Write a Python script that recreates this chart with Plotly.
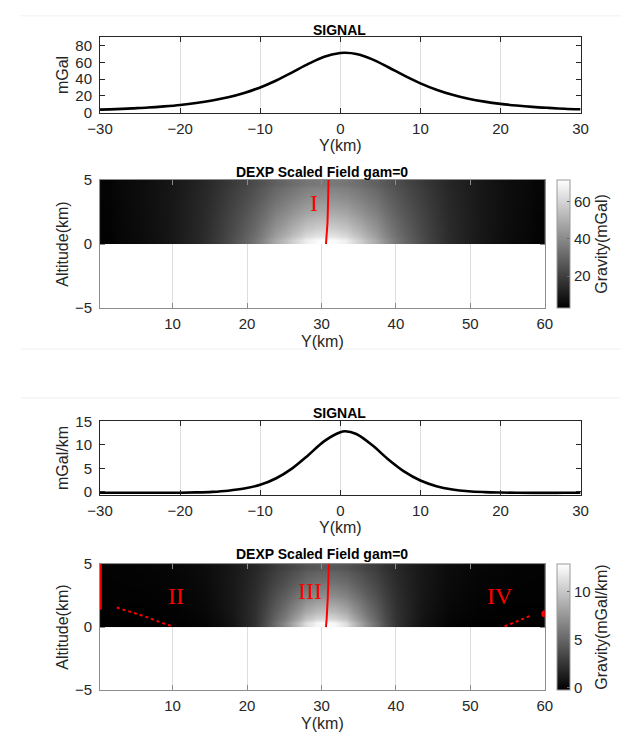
import plotly.graph_objects as go

W, H = 635, 745

# ---------------- data ----------------
sig_x = [-30, -28, -26, -24, -22, -20, -18, -16, -14, -12, -10, -8, -6, -4, -2,
         0, 0.6, 2, 4, 6, 8, 10, 12, 14, 16, 18, 20, 22, 24, 26, 28, 30]
signal_mgal = [3.5, 4.1, 5.0, 6.0, 7.4, 9.1, 11.4, 14.4, 18.3, 23.5, 30.1, 38.4, 48.1, 58.2, 66.8,
               71.2, 71.5, 70.1, 63.7, 54.2, 44.1, 34.9, 27.3, 21.2, 16.6, 13.1, 10.4, 8.4, 6.8, 5.6, 4.6, 3.9]
signal_grad = [-0.2, -0.2, -0.2, -0.2, -0.2, -0.18, -0.12, 0.0, 0.25, 0.7, 1.5, 2.9, 5.0, 7.8, 10.8,
               12.7, 12.9, 12.3, 9.9, 6.9, 4.3, 2.4, 1.2, 0.5, 0.12, -0.06, -0.15, -0.2, -0.22, -0.22, -0.2, -0.2]

grid_y_km = [0, 5.6, 10.1, 14.1, 18.1, 21.1, 24.1, 26.1, 28.1, 29.4, 30.6, 31.8, 33.1, 35.1,
             37.1, 40.1, 43.1, 47.1, 51.1, 55.6, 60]
alt_km = [0, 1.25, 2.5, 3.75, 5]

field_mgal = [
    [3.5, 5.8, 9.2, 14.6, 23.8, 34.5, 48.6, 58.7, 67.1, 70.4, 71.5, 70.4, 67.1, 58.7, 48.6, 34.5, 23.8, 14.6, 9.2, 5.8, 3.9],
    [3.7, 6.0, 9.4, 14.4, 22.6, 31.5, 42.4, 49.8, 55.7, 57.9, 58.7, 57.9, 55.7, 49.8, 42.4, 31.5, 22.6, 14.4, 9.4, 6.0, 4.1],
    [3.8, 6.2, 9.4, 14.1, 21.3, 28.7, 37.2, 42.7, 46.9, 48.5, 49.0, 48.5, 46.9, 42.7, 37.2, 28.7, 21.3, 14.1, 9.4, 6.2, 4.2],
    [4.0, 6.3, 9.4, 13.7, 20.0, 26.1, 32.8, 36.9, 40.0, 41.2, 41.5, 41.2, 40.0, 36.9, 32.8, 26.1, 20.0, 13.7, 9.4, 6.3, 4.4],
    [4.1, 6.3, 9.3, 13.2, 18.6, 23.7, 29.0, 32.2, 34.5, 35.4, 35.6, 35.4, 34.5, 32.2, 29.0, 23.7, 18.6, 13.2, 9.3, 6.3, 4.5],
]
field_grad = [
    [-0.18, -0.22, -0.21, -0.02, 0.75, 2.31, 5.42, 8.34, 11.22, 12.49, 12.9, 12.49, 11.22, 8.34, 5.42, 2.31, 0.75, -0.02, -0.21, -0.22, -0.19],
    [-0.15, -0.17, -0.11, 0.13, 0.91, 2.27, 4.62, 6.62, 8.45, 9.22, 9.47, 9.22, 8.45, 6.62, 4.62, 2.27, 0.91, 0.13, -0.11, -0.17, -0.16],
    [-0.12, -0.12, -0.03, 0.25, 0.99, 2.13, 3.92, 5.30, 6.51, 6.99, 7.15, 6.99, 6.51, 5.30, 3.92, 2.13, 0.99, 0.25, -0.03, -0.12, -0.13],
    [-0.10, -0.07, 0.04, 0.33, 1.02, 1.96, 3.31, 4.29, 5.11, 5.43, 5.53, 5.43, 5.11, 4.29, 3.31, 1.96, 1.02, 0.33, 0.04, -0.07, -0.10],
    [-0.08, -0.03, 0.10, 0.39, 1.00, 1.79, 2.82, 3.52, 4.09, 4.31, 4.38, 4.31, 4.09, 3.52, 2.82, 1.79, 1.00, 0.39, 0.10, -0.03, -0.07],
]

# red DEXP traces
line_I_x = [30.95, 30.95, 30.9, 30.85, 30.8, 30.7, 30.6]
line_I_y = [5, 4.2, 3.4, 2.5, 1.6, 0.8, 0]
line_III_x = [31.0, 31.0, 30.9, 30.85, 30.8, 30.7, 30.6]
line_III_y = [5, 4.2, 3.3, 2.4, 1.5, 0.7, 0]
edge_x = [0.35, 0.35]
edge_y = [5, 1.4]
dots_II_x = [2.5, 4.5, 6.5, 8.5, 10.0]
dots_II_y = [1.55, 1.2, 0.8, 0.35, 0.05]
dots_IV_x = [54.6, 56.0, 57.3, 58.3]
dots_IV_y = [0.05, 0.4, 0.7, 0.95]
mark_x = [60]
mark_y = [1.05]

labels = [("I", 29.0, 3.2, 2), ("II", 10.5, 2.5, 4), ("III", 28.4, 2.9, 4), ("IV", 54.0, 2.5, 4)]

# ---------------- helpers ----------------
def edges(c):
    e = [c[0]]
    for a, b in zip(c[:-1], c[1:]):
        e.append((a + b) / 2)
    e.append(c[-1])
    return e

def px(x):
    return x / W

def py(y):
    return 1 - y / H

def xd(l, r):
    return [px(l), px(r)]

def yd(t, b):
    return [py(b), py(t)]

AX = "#262626"
FONT = "Liberation Sans, Arial, sans-serif"
tickfont = dict(family=FONT, size=15, color=AX)
titlefont = dict(family=FONT, size=16, color=AX)
gray = [[0, "#000000"], [1, "#ffffff"]]

fig = go.Figure()

fig.add_trace(go.Scatter(x=sig_x, y=signal_mgal, mode="lines", line=dict(color="black", width=2.6, shape="spline"),
                         xaxis="x", yaxis="y", showlegend=False))
fig.add_trace(go.Heatmap(x=edges(grid_y_km), y=edges(alt_km), z=field_mgal, zsmooth="best",
                         colorscale=gray, zmin=3.0, zmax=71.5, xaxis="x2", yaxis="y2",
                         colorbar=dict(x=px(563), xanchor="left", xpad=0, ypad=0, y=py(175), yanchor="top",
                                       len=131 / H, lenmode="fraction", thickness=13, outlinewidth=1,
                                       outlinecolor="#9a9a9a", tickvals=[20, 40, 60], ticks="inside", ticklen=3,
                                       tickcolor="#666", tickfont=tickfont,
                                       title=dict(text="Gravity(mGal)", side="right", font=titlefont))))
fig.add_trace(go.Scatter(x=line_I_x, y=line_I_y, mode="lines", line=dict(color="red", width=2),
                         xaxis="x2", yaxis="y2", showlegend=False))

fig.add_trace(go.Scatter(x=sig_x, y=signal_grad, mode="lines", line=dict(color="black", width=2.6, shape="spline"),
                         xaxis="x3", yaxis="y3", showlegend=False))
fig.add_trace(go.Heatmap(x=edges(grid_y_km), y=edges(alt_km), z=field_grad, zsmooth="best",
                         colorscale=gray, zmin=-0.22, zmax=12.9, xaxis="x4", yaxis="y4",
                         colorbar=dict(x=px(563), xanchor="left", xpad=0, ypad=0, y=py(568), yanchor="top",
                                       len=129 / H, lenmode="fraction", thickness=13, outlinewidth=1,
                                       outlinecolor="#9a9a9a", tickvals=[0, 5, 10], ticks="inside", ticklen=3,
                                       tickcolor="#666", tickfont=tickfont,
                                       title=dict(text="Gravity(mGal/km)", side="right", font=titlefont))))
for xs, ys in [(line_III_x, line_III_y), (edge_x, edge_y)]:
    fig.add_trace(go.Scatter(x=xs, y=ys, mode="lines", line=dict(color="red", width=2),
                             xaxis="x4", yaxis="y4", showlegend=False))
for xs, ys in [(dots_II_x, dots_II_y), (dots_IV_x, dots_IV_y)]:
    fig.add_trace(go.Scatter(x=xs, y=ys, mode="lines", line=dict(color="red", width=2, dash="dot"),
                             xaxis="x4", yaxis="y4", showlegend=False))
fig.add_trace(go.Scatter(x=mark_x, y=mark_y, mode="markers", marker=dict(color="red", size=7),
                         cliponaxis=True, xaxis="x4", yaxis="y4", showlegend=False))

def xaxis_style(dom, rng, tv, anchor, linecol=AX):
    return dict(domain=dom, range=rng, tickvals=tv, anchor=anchor, showline=True, linecolor=linecol,
                linewidth=1, mirror="allticks", ticks="inside", ticklen=5, tickcolor=linecol,
                showgrid=True, gridcolor="#dedede", gridwidth=1, zeroline=False, tickfont=tickfont,
                ticklabelstandoff=2, title=dict(text="Y(km)", font=titlefont, standoff=4))

def yaxis_style(dom, rng, tv, anchor, title, linecol=AX):
    return dict(domain=dom, range=rng, tickvals=tv, anchor=anchor, showline=True, linecolor=linecol,
                linewidth=1, mirror="allticks", ticks="inside", ticklen=5, tickcolor=linecol,
                showgrid=False, zeroline=False, tickfont=tickfont, ticklabelstandoff=4,
                title=dict(text=title, font=titlefont, standoff=2))

fig.update_layout(
    width=W, height=H, margin=dict(l=0, r=0, t=0, b=0), paper_bgcolor="white", plot_bgcolor="white",
    showlegend=False,
    xaxis=xaxis_style(xd(90, 587), [-30, 30], [-30, -20, -10, 0, 10, 20, 30], "y"),
    yaxis=yaxis_style(yd(29, 106), [0, 90], [0, 20, 40, 60, 80], "x", "mGal"),
    xaxis2=xaxis_style(xd(90, 550), [0.25, 60], [10, 20, 30, 40, 50, 60], "y2", "#8c8c8c"),
    yaxis2=yaxis_style(yd(175, 306), [-5, 5], [-5, 0, 5], "x2", "Altitude(km)", "#8c8c8c"),
    xaxis3=xaxis_style(xd(90, 587), [-30, 30], [-30, -20, -10, 0, 10, 20, 30], "y3"),
    yaxis3=yaxis_style(yd(422, 497), [-0.6, 15], [0, 5, 10, 15], "x3", "mGal/km"),
    xaxis4=xaxis_style(xd(90, 550), [0.25, 60], [10, 20, 30, 40, 50, 60], "y4", "#8c8c8c"),
    yaxis4=yaxis_style(yd(568, 697), [-5, 5], [-5, 0, 5], "x4", "Altitude(km)", "#8c8c8c"),
)

titles = [("SIGNAL", 338, 22), ("DEXP Scaled Field gam=0", 320, 167),
          ("SIGNAL", 338, 413), ("DEXP Scaled Field gam=0", 320, 558)]
for txt, tx, ty in titles:
    fig.add_annotation(x=px(tx), y=py(ty), xref="paper", yref="paper", text="<b>" + txt + "</b>",
                       showarrow=False, font=dict(family=FONT, size=14, color="black"),
                       xanchor="center", yanchor="middle")

for txt, lx, ly, ax in labels:
    fig.add_annotation(x=lx, y=ly, xref="x%d" % ax, yref="y%d" % ax, text=txt, showarrow=False,
                       font=dict(family="Liberation Serif, Times New Roman, serif", size=24, color="red"))

for ly in [7, 348, 398]:
    fig.add_shape(type="line", xref="paper", yref="paper", x0=px(8), x1=px(628), y0=py(ly), y1=py(ly),
                  line=dict(color="#efefef", width=1))

fig.write_html("out.html")
